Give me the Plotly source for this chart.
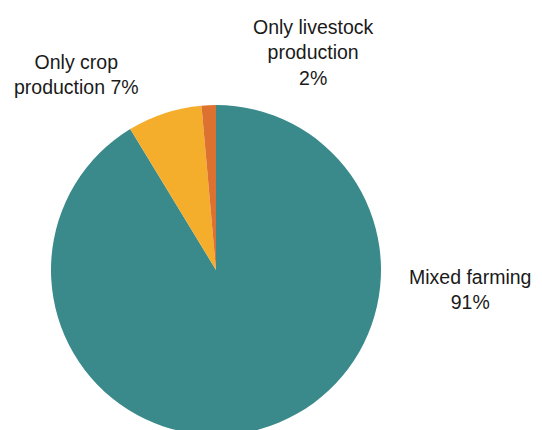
import plotly.graph_objects as go

categories = ["Mixed farming", "Only crop production", "Only livestock production"]
values = [91.3, 7.3, 1.4]
label_texts = ["Mixed farming<br>91%", "Only crop<br>production 7%", "Only livestock<br>production<br>2%"]
colors = ["#3A898B", "#F5AE2B", "#DD7230"]

W, H = 542, 430
OFF = 8  # page body margin
cx, cy, r = 216 - OFF, 270 - OFF, 165
fig = go.Figure(go.Pie(
    labels=categories,
    values=values,
    sort=False,
    direction="clockwise",
    rotation=0,
    textinfo="none",
    hoverinfo="label+percent",
    marker=dict(colors=colors, line=dict(width=0)),
    domain=dict(x=[(cx - r) / W, (cx + r) / W], y=[(H - cy - r) / H, (H - cy + r) / H]),
    showlegend=False,
))

label_pos = [(470, 289), (76, 74), (313, 52)]
for txt, (x, y) in zip(label_texts, label_pos):
    fig.add_annotation(
        x=(x - OFF) / W, y=1 - (y - OFF) / H, xref="paper", yref="paper",
        text=txt, showarrow=False, xanchor="center", yanchor="middle",
        align="center",
        font=dict(family="Liberation Sans, Arial, sans-serif", size=19.5, color="#1a1a1a"),
    )

fig.update_layout(
    width=W, height=H,
    margin=dict(l=0, r=0, t=0, b=0),
    paper_bgcolor="white",
    plot_bgcolor="white",
)

fig.write_html("out.html")
